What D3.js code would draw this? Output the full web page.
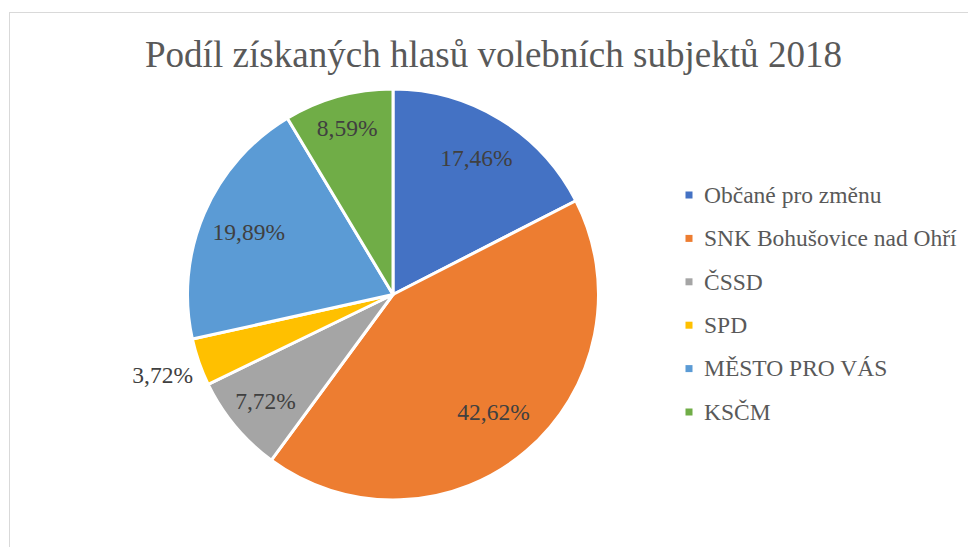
<!DOCTYPE html>
<html><head><meta charset="utf-8">
<script src="https://cdn.jsdelivr.net/npm/d3@7"></script>
<style>body{margin:0;background:#fff}svg{display:block}
svg text{font-family:"Liberation Serif","Times New Roman",Tinos,"DejaVu Serif",serif}</style>
</head><body>
<svg id="c" width="968" height="547"></svg>
<script>
const title = "Podíl získaných hlasů volebních subjektů 2018";
const categories = ["Občané pro změnu","SNK Bohušovice nad Ohří","ČSSD","SPD","MĚSTO PRO VÁS","KSČM"];
const values = [17.46, 42.62, 7.72, 3.72, 19.89, 8.59];
const labels = ["17,46%","42,62%","7,72%","3,72%","19,89%","8,59%"];
const colors = ["#4472C4","#ED7D31","#A5A5A5","#FFC000","#5B9BD5","#70AD47"];

const svg = d3.select("#c");
svg.append("rect").attr("x",9.5).attr("y",12.5).attr("width",1000).attr("height",600)
  .attr("fill","#fff").attr("stroke","#d9d9d9").attr("stroke-width",1);

svg.append("text").attr("x",493.5).attr("y",67).attr("text-anchor","middle")
  .attr("font-size",37.1).attr("fill","#595959").text(title);

const cx = 393, cy = 294.5, R = 205.5;
const data = categories.map((c,i)=>({name:c,value:values[i],label:labels[i],color:colors[i]}));
const pie = d3.pie().value(d=>d.value).sort(null);
const arcs = pie(data);
const arc = d3.arc().innerRadius(0).outerRadius(R);
const g = svg.append("g").attr("transform",`translate(${cx},${cy})`);
g.selectAll("path").data(arcs).join("path").attr("d",arc)
  .attr("fill",d=>d.data.color).attr("stroke","#fff").attr("stroke-width",3).attr("stroke-linejoin","round");

const labelR = [160,155,166,244,157,172];
g.selectAll("text").data(arcs).join("text")
  .attr("transform",(d,i)=>{const a=(d.startAngle+d.endAngle)/2;return `translate(${labelR[i]*Math.sin(a)},${-labelR[i]*Math.cos(a)})`;})
  .attr("text-anchor","middle").attr("dy","0.33em")
  .attr("font-size",23.5).attr("fill","#404040")
  .text(d=>d.data.label);

const lg = svg.append("g");
const rowY = d3.scalePoint().domain(categories).range([195,412]);
const items = lg.selectAll("g").data(data).join("g").attr("transform",d=>`translate(689,${rowY(d.name)})`);
items.append("rect").attr("x",-3.5).attr("y",-3.5).attr("width",7).attr("height",7).attr("fill",d=>d.color);
items.append("text").attr("x",15).attr("dy","0.33em").attr("font-size",23.5)
  .attr("fill","#595959").text(d=>d.name);
</script>
</body></html>
